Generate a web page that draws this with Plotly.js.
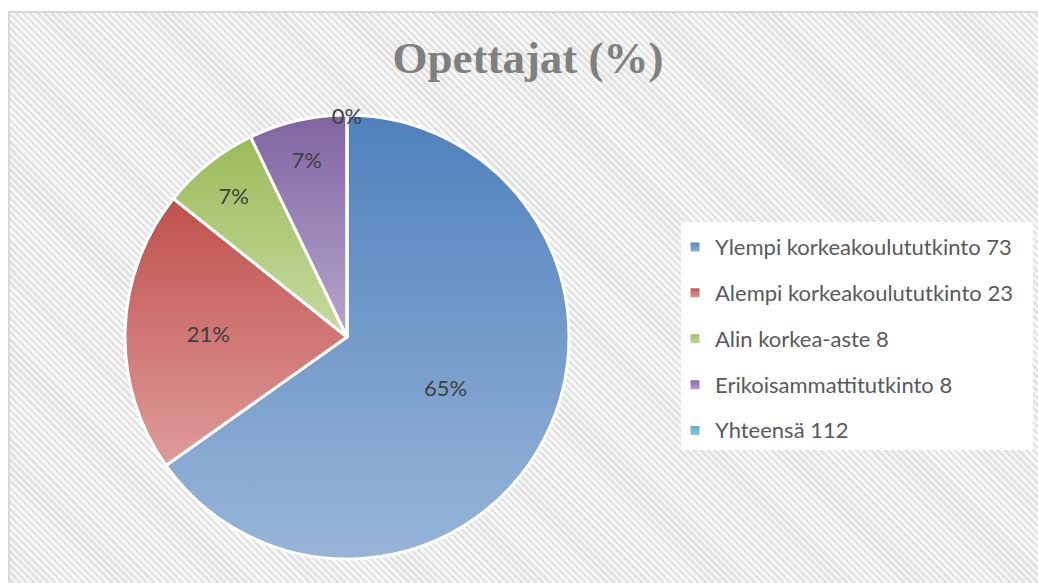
<!DOCTYPE html>
<html>
<head>
<meta charset="utf-8">
<script src="https://cdn.plot.ly/plotly-3.0.1.min.js"></script>
<style>
  html, body { margin: 0; padding: 0; background: #ffffff; }
  #wrap { position: relative; width: 1038px; height: 583px; overflow: hidden; }
  #bg { position: absolute; left: 8px; top: 11px; right: -2px; bottom: -2px;
        border-top: 2px solid #d9d9d9; border-left: 2px solid #d9d9d9;
        background: repeating-linear-gradient(45deg, #f8f8f8 0px, #f8f8f8 2.5px, #e2e2e2 2.5px, #e2e2e2 5px); }
  #chart { position: absolute; left: 0; top: 0; width: 1038px; height: 583px; }
</style>
</head>
<body>
<div id="wrap"><div id="bg"></div><div id="chart"></div></div>
<script>
// Data
const categories = ["Ylempi korkeakoulututkinto 73", "Alempi korkeakoulututkinto 23", "Alin korkea-aste 8", "Erikoisammattitutkinto 8", "Yhteensä 112"];
const values = [73, 23, 8, 8, 0];
const sliceColors = ["#6f97ca", "#d07a77", "#b0c97c", "#9882b6", "#4bacc6"];
const gradTop = ["#4f81bd", "#c0504d", "#9bbb59", "#8064a2", "#4bacc6"];
const gradBottom = ["#98b5d9", "#de9c9a", "#c7daa1", "#b6a7cb", "#93cddd"];
const titleText = "Opettajat (%)";

const legendLabels = categories.map(c => '<span style="font-size:22px;baseline-shift:5px">' + c + '</span>');

const trace = {
  type: 'pie',
  labels: legendLabels,
  values: values,
  sort: false,
  direction: 'clockwise',
  rotation: 0,
  marker: { colors: sliceColors, line: { color: '#ffffff', width: 3 } },
  textinfo: 'percent',
  texttemplate: '%{percent:.0%}',
  textposition: 'inside',
  insidetextorientation: 'horizontal',
  textfont: { family: 'Lato, "Noto Sans", sans-serif', size: 22, color: '#404040' },
  hoverinfo: 'label+value+percent',
  domain: { x: [125/1038, 569/1038], y: [24/583, 468/583] },
  showlegend: true
};

const layout = {
  width: 1038, height: 583,
  margin: { l: 0, r: 0, t: 0, b: 0 },
  paper_bgcolor: 'rgba(0,0,0,0)',
  plot_bgcolor: 'rgba(0,0,0,0)',
  title: {
    text: '<b>' + titleText + '</b>',
    font: { family: '"Liberation Serif", "DejaVu Serif", serif', size: 45, color: '#808080' },
    x: 528/1038, xanchor: 'center', xref: 'paper',
    y: 1 - 57/583, yanchor: 'middle', yref: 'paper'
  },
  uniformtext: { mode: 'show', minsize: 22 },
  legend: {
    x: 675/1038, xanchor: 'left',
    y: 1 - 219/583, yanchor: 'top',
    bgcolor: 'rgba(0,0,0,0)',
    font: { family: 'Lato, "Noto Sans", sans-serif', size: 33, color: '#595959' },
    traceorder: 'normal'
  },
  shapes: [{
    type: 'rect', xref: 'paper', yref: 'paper', layer: 'below',
    x0: 681/1038, x1: 1033/1038, y0: 1 - 450/583, y1: 1 - 222/583,
    fillcolor: '#ffffff', line: { width: 0 }
  }]
};

function addGradient(svg, id, c0, c1) {
  const NS = 'http://www.w3.org/2000/svg';
  let defs = svg.querySelector('defs');
  if (!defs) { defs = document.createElementNS(NS, 'defs'); svg.insertBefore(defs, svg.firstChild); }
  const g = document.createElementNS(NS, 'linearGradient');
  g.setAttribute('id', id);
  g.setAttribute('x1', '0'); g.setAttribute('y1', '0');
  g.setAttribute('x2', '0'); g.setAttribute('y2', '1');
  [[0, c0], [1, c1]].forEach(([o, c]) => {
    const s = document.createElementNS(NS, 'stop');
    s.setAttribute('offset', o); s.setAttribute('stop-color', c);
    g.appendChild(s);
  });
  defs.appendChild(g);
}

Plotly.newPlot('chart', [trace], layout, { displayModeBar: false, staticPlot: true }).then(gd => {
  const svg = gd.querySelector('svg.main-svg');
  gradTop.forEach((c, i) => addGradient(svg, 'sliceGrad' + i, c, gradBottom[i]));
  gd.querySelectorAll('g.slice').forEach((sl, k) => {
    const d = sl.__data__;
    const idx = (d && d.i !== undefined) ? d.i : k;
    const path = sl.querySelector('path.surface');
    if (path) path.style.fill = 'url(#sliceGrad' + idx + ')';
  });
  gd.querySelectorAll('g.legendpoints path').forEach((p, k) => {
    const g = p.closest('g.traces');
    const d = g && g.__data__ && g.__data__[0];
    const idx = (d && d.i !== undefined) ? d.i : k;
    p.style.fill = 'url(#sliceGrad' + idx + ')';
  });
});
</script>
</body>
</html>
